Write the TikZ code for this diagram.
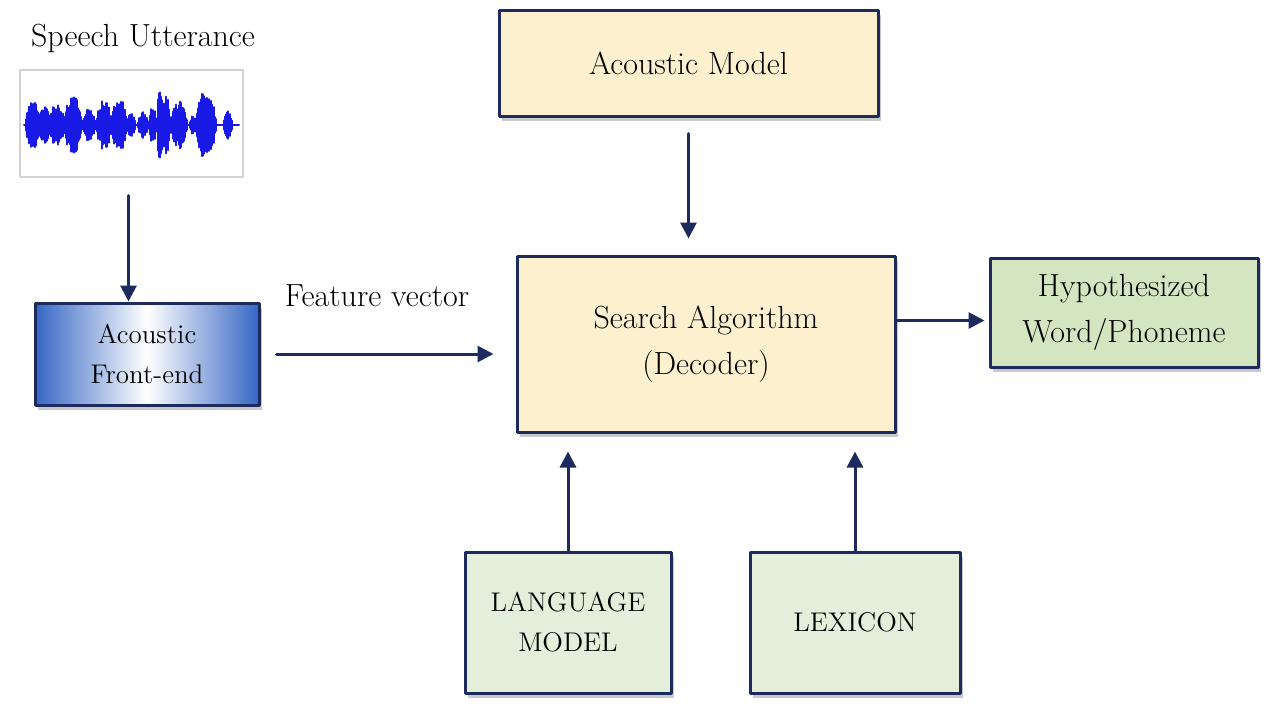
\documentclass[tikz,border=0pt]{standalone}
\usetikzlibrary{arrows.meta,shadows}

\definecolor{navy}{HTML}{1C2A5E}
\definecolor{cream}{HTML}{FDF0CE}
\definecolor{leaf}{HTML}{D3E6C1}
\definecolor{pale}{HTML}{E3EFDA}
\definecolor{wavecol}{HTML}{1A1AE6}
\definecolor{frontblue}{HTML}{3566C4}

\begin{document}
\begin{tikzpicture}[x=0.5pt,y=-0.5pt,line width=1.5pt,line cap=round,line join=round,
  box/.style={draw=navy,line width=1.5pt,align=center,inner sep=0pt,
    drop shadow={shadow xshift=1.5pt,shadow yshift=-2.5pt,opacity=0.3,fill=black!70}},
  bigtext/.style={font=\fontsize{16}{23}\selectfont},
  smalltext/.style={font=\fontsize{13.5}{20}\selectfont},
  arr/.style={draw=navy,line width=1.5pt,-{Triangle[length=8pt,width=8pt]}}]
\useasboundingbox (0,0) rectangle (1269,703);

% input side
\node[bigtext] (utter) at (143,38) {Speech Utterance};
\node[draw=gray!35,line width=0.6pt,minimum width=111.5pt,minimum height=53.5pt,inner sep=0pt] (wave) at (131.5,123.5) {};
\pgfmathsetseed{11}
\draw[wavecol,line width=1pt] (24,125) -- (239,125);
\foreach \c/\w/\a in {33/7/28,45/6/20,57/8/24,73/9/32,89/6/18,104/8/27,119/8/29,131/4/13,
  143/5/13,153/3/22,160/2/48,166/4/32,179/8/26,193/3/10,206/10/38,228/4/14}{
  \foreach \k in {-\w,...,\w}{
    \pgfmathsetmacro\h{\a*(1-(\k/(\w+1))^2)*(0.6+0.4*rnd)}
    \draw[wavecol,line width=1pt] (\c+\k,125-\h) -- (\c+\k,125+\h);
  }
}

\node[box,smalltext,left color=frontblue,right color=frontblue,middle color=white,
  minimum width=112pt,minimum height=51pt] (front) at (147,354) {Acoustic\\Front-end};
\node[bigtext] (feat) at (377,296) {Feature vector};

% decoder and models
\node[box,bigtext,fill=cream,minimum width=189.5pt,minimum height=53pt] (am) at (688.5,63) {Acoustic Model};
\node[box,bigtext,fill=cream,minimum width=189pt,minimum height=88pt] (search) at (706,344) {Search Algorithm\\(Decoder)};
\node[box,bigtext,fill=leaf,minimum width=134pt,minimum height=54.5pt] (hyp) at (1124,312.5) {Hypothesized\\Word/Phoneme};
\node[box,smalltext,fill=pale,minimum width=103pt,minimum height=70.5pt] (lm) at (568,622.5) {LANGUAGE\\MODEL};
\node[box,smalltext,fill=pale,minimum width=105pt,minimum height=70.5pt] (lex) at (855,622.5) {LEXICON};

% connectors
\draw[arr] ([shift={(-3,18)}]wave.south) -- ([xshift=-1.5pt]wave.south |- front.north);
\draw[arr] ([xshift=8pt]front.east) -- ([xshift=-11pt]search.west |- front.east);
\draw[arr] ([yshift=-8pt]am.south) -- ([yshift=8pt]am.south |- search.north);
\draw[arr] ([yshift=-4pt]search.east |- hyp.west) -- ([xshift=-2pt,yshift=-4pt]hyp.west);
\draw[arr] (lm.north) -- ([yshift=-9pt]lm.north |- search.south);
\draw[arr] (lex.north) -- ([yshift=-9pt]lex.north |- search.south);
\end{tikzpicture}
\end{document}
